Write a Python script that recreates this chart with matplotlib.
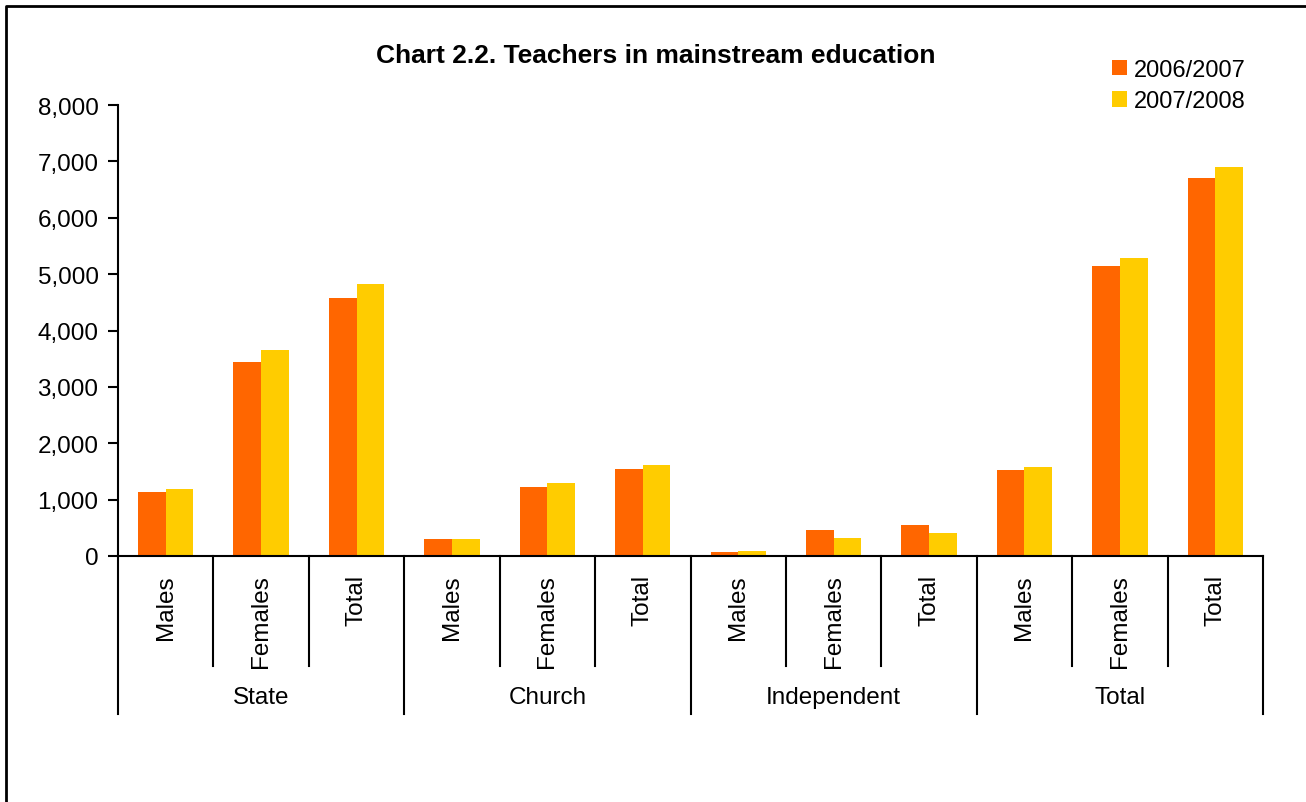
import numpy as np
import matplotlib
matplotlib.use("Agg")
import matplotlib.pyplot as plt
from matplotlib.lines import Line2D
from matplotlib.ticker import FuncFormatter

plt.rcParams["font.family"] = ["Liberation Sans", "DejaVu Sans"]

groups = ["State", "Church", "Independent", "Total"]
categories = ["Males", "Females", "Total"] * 4
series_names = ["2006/2007", "2007/2008"]
y0607 = [1130, 3435, 4575, 300, 1230, 1550, 75, 465, 555, 1530, 5140, 6705]
y0708 = [1185, 3650, 4820, 300, 1300, 1620, 95, 320, 410, 1585, 5285, 6905]
colors = ["#FF6600", "#FFCC00"]

fig = plt.figure(figsize=(13.06, 8.03), dpi=100)
ax = fig.add_axes([118 / 1306, 1 - 557 / 803, (1263 - 118) / 1306, (557 - 106) / 803])

x = np.arange(len(categories))
w = 0.29
ax.bar(x - w / 2, y0607, w, color=colors[0], label=series_names[0])
ax.bar(x + w / 2, y0708, w, color=colors[1], label=series_names[1])

ax.set_xlim(-0.5, len(categories) - 0.5)
ax.set_ylim(0, 8000)
ax.set_yticks(np.arange(0, 8001, 1000))
ax.yaxis.set_major_formatter(FuncFormatter(lambda v, p: f"{int(v):,}"))
ax.tick_params(axis="y", labelsize=17.5, length=7, width=1.5, direction="out", pad=7)
ax.set_xticks([])
for s in ["top", "right"]:
    ax.spines[s].set_visible(False)
for s in ["left", "bottom"]:
    ax.spines[s].set_linewidth(1.5)

# multi-level category axis
trans = ax.get_xaxis_transform()
for i in range(len(categories) + 1):
    bottom = -0.35 if i % 3 == 0 else -0.244
    ax.plot([i - 0.5, i - 0.5], [0, bottom], color="black", lw=1.5,
            transform=trans, clip_on=False)
for i, c in enumerate(categories):
    ax.text(i, -0.04, c, rotation=90, ha="center", va="top", fontsize=17.5,
            transform=trans)
for g, name in enumerate(groups):
    ax.text(g * 3 + 1, -0.313, name, ha="center", va="center", fontsize=17.5,
            transform=trans)

fig.text(656 / 1306, 1 - 56 / 803, "Chart 2.2. Teachers in mainstream education",
         ha="center", va="center", fontsize=19, fontweight="bold")

fig.legend(loc="upper left", bbox_to_anchor=(1100 / 1306, 1 - 48 / 803),
           frameon=False, fontsize=17, handlelength=0.65, handleheight=0.65,
           handletextpad=0.3, labelspacing=0.4, borderpad=0)

# outer frame (only top and left edges fall inside the image)
fig.add_artist(Line2D([6 / 1306, 6 / 1306, 1], [0, 1 - 7 / 803, 1 - 7 / 803],
                      transform=fig.transFigure, color="black", lw=2))

fig.savefig("out.png", dpi=100)
